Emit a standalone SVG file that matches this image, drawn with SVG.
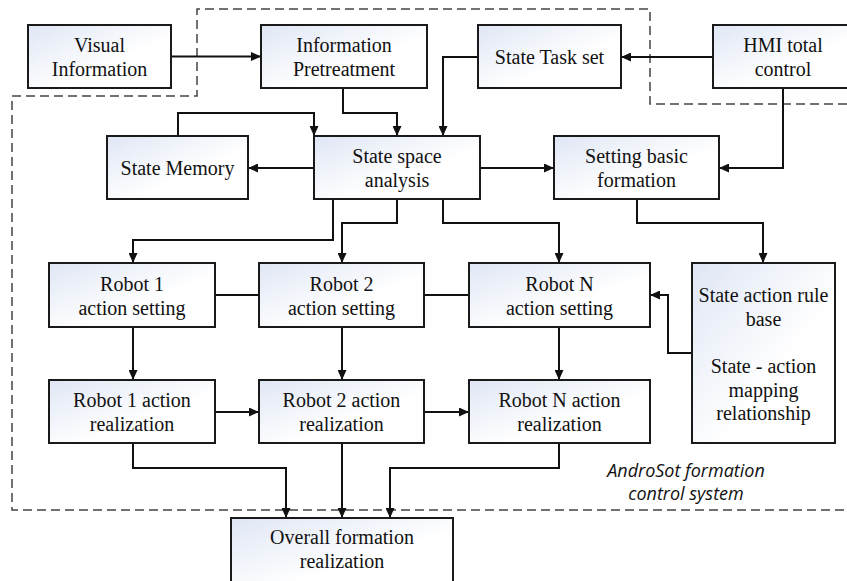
<svg xmlns="http://www.w3.org/2000/svg" width="847" height="581" viewBox="0 0 847 581">
<defs>
<linearGradient id="g" x1="0" y1="0" x2="1" y2="1">
<stop offset="0" stop-color="#dfe6f4"/>
<stop offset="0.6" stop-color="#ffffff"/>
</linearGradient>
<marker id="ah" markerUnits="userSpaceOnUse" markerWidth="10" markerHeight="9" refX="10" refY="4.5" orient="auto">
<path d="M0,0 L10,4.5 L0,9 z" fill="#111"/>
</marker>
<style>
.box{fill:url(#g);stroke:#1a1a1a;stroke-width:2}
.t{font-family:"Liberation Serif","Times New Roman",serif;font-size:20px;fill:#111;text-anchor:middle}
.c{fill:none;stroke:#111;stroke-width:2}
.a{marker-end:url(#ah)}
.dash{fill:none;stroke:#444;stroke-width:1.5;stroke-dasharray:9,5}
.lab{font-family:"Open Sans","Liberation Sans",sans-serif;font-style:italic;font-size:18px;fill:#111;text-anchor:middle}
</style>
</defs>
<rect width="847" height="581" fill="#fff"/>
<path class="dash" d="M847,104 H650 V9 H197 V96 H12 V510 H847"/>
<text class="lab" x="686" y="477">AndroSot formation</text>
<text class="lab" x="686" y="500">control system</text>
<g id="connectors">
<path class="c a" d="M171,56.5 H261"/>
<path class="c a" d="M713,57 H621"/>
<path class="c a" d="M478,57 H443 V136"/>
<path class="c a" d="M343,88 V113 H397 V136"/>
<path class="c a" d="M178,136 V113 H314 V136"/>
<path class="c a" d="M314,168 H248"/>
<path class="c a" d="M480,168 H554"/>
<path class="c a" d="M783,88 V168 H719"/>
<path class="c a" d="M333,199 V240 H133 V263"/>
<path class="c a" d="M397,199 V223 H342 V263"/>
<path class="c a" d="M443,199 V223 H559 V263"/>
<path class="c a" d="M637,199 V223 H763 V263"/>
<path class="c" d="M215,295 H259"/>
<path class="c" d="M424,295 H469"/>
<path class="c a" d="M692,353 H668 V295 H650"/>
<path class="c a" d="M133,327 V380"/>
<path class="c a" d="M342,327 V380"/>
<path class="c a" d="M559,327 V380"/>
<path class="c a" d="M215,412 H259"/>
<path class="c a" d="M424,412 H469"/>
<path class="c a" d="M133,443 V468 H286 V518"/>
<path class="c a" d="M342,443 V518"/>
<path class="c a" d="M559,443 V468 H390 V518"/>
</g>
<g id="visual"><rect class="box" x="28" y="25" width="143" height="63"/><text class="t" x="99.5" y="52">Visual</text><text class="t" x="99.5" y="76">Information</text></g>
<g id="pretreatment"><rect class="box" x="261" y="25" width="166" height="63"/><text class="t" x="344" y="52">Information</text><text class="t" x="344" y="76">Pretreatment</text></g>
<g id="tasks"><rect class="box" x="478" y="25" width="143" height="63"/><text class="t" x="549.5" y="63.5">State Task set</text></g>
<g id="hmi"><rect class="box" x="713" y="25" width="140" height="63"/><text class="t" x="783" y="52">HMI total</text><text class="t" x="783" y="76">control</text></g>
<g id="memory"><rect class="box" x="107" y="136" width="141" height="63"/><text class="t" x="177.5" y="175">State Memory</text></g>
<g id="statespace"><rect class="box" x="314" y="136" width="166" height="63"/><text class="t" x="397" y="163">State space</text><text class="t" x="397" y="187">analysis</text></g>
<g id="setting"><rect class="box" x="554" y="136" width="165" height="63"/><text class="t" x="636.5" y="163">Setting basic</text><text class="t" x="636.5" y="187">formation</text></g>
<g id="r1set"><rect class="box" x="49" y="263" width="166" height="64"/><text class="t" x="132" y="290.5">Robot 1</text><text class="t" x="132" y="314.5">action setting</text></g>
<g id="r2set"><rect class="box" x="259" y="263" width="165" height="64"/><text class="t" x="341.5" y="290.5">Robot 2</text><text class="t" x="341.5" y="314.5">action setting</text></g>
<g id="rnset"><rect class="box" x="469" y="263" width="181" height="64"/><text class="t" x="559.5" y="290.5">Robot N</text><text class="t" x="559.5" y="314.5">action setting</text></g>
<g id="rulebase"><rect class="box" x="692" y="263" width="143" height="180"/>
<text class="t" x="763.5" y="302">State action rule</text><text class="t" x="763.5" y="325.5">base</text>
<text class="t" x="763.5" y="373">State - action</text><text class="t" x="763.5" y="396.5">mapping</text><text class="t" x="763.5" y="420">relationship</text></g>
<g id="r1real"><rect class="box" x="49" y="380" width="166" height="63"/><text class="t" x="132" y="407">Robot 1 action</text><text class="t" x="132" y="431">realization</text></g>
<g id="r2real"><rect class="box" x="259" y="380" width="165" height="63"/><text class="t" x="341.5" y="407">Robot 2 action</text><text class="t" x="341.5" y="431">realization</text></g>
<g id="rnreal"><rect class="box" x="469" y="380" width="181" height="63"/><text class="t" x="559.5" y="407">Robot N action</text><text class="t" x="559.5" y="431">realization</text></g>
<g id="overall"><rect class="box" x="231" y="518" width="222" height="72"/><text class="t" x="342" y="544">Overall formation</text><text class="t" x="342" y="568">realization</text></g>
</svg>
